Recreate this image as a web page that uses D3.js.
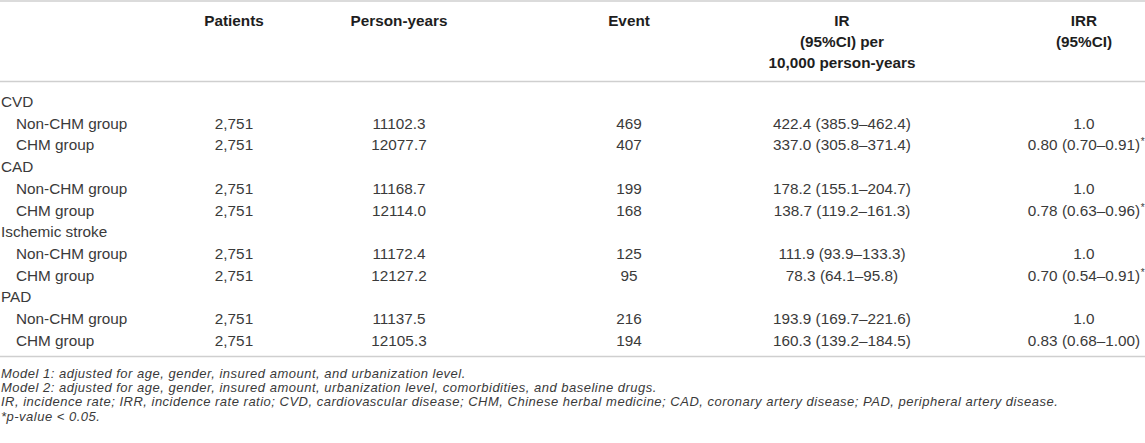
<!DOCTYPE html>
<html><head><meta charset="utf-8">
<script src="https://cdn.jsdelivr.net/npm/d3@7"></script>
<style>
html,body{margin:0;padding:0;background:#fff;}
svg{display:block;font-family:"Liberation Sans",Arial,sans-serif;}
</style></head>
<body><svg id="t" width="1145" height="443"></svg>
<script>
const columns = ["Patients","Person-years","Event","IR","IRR"];
const headerLines = [["Patients"],["Person-years"],["Event"],["IR","(95%CI) per","10,000 person-years"],["IRR","(95%CI)"]];
const outcomes = ["CVD","CAD","Ischemic stroke","PAD"];
const groups = ["Non-CHM group","CHM group"];
const patients = ["2,751","2,751","2,751","2,751","2,751","2,751","2,751","2,751"];
const personYears = ["11102.3","12077.7","11168.7","12114.0","11172.4","12127.2","11137.5","12105.3"];
const events = ["469","407","199","168","125","95","216","194"];
const irValues = ["422.4 (385.9–462.4)","337.0 (305.8–371.4)","178.2 (155.1–204.7)","138.7 (119.2–161.3)","111.9 (93.9–133.3)","78.3 (64.1–95.8)","193.9 (169.7–221.6)","160.3 (139.2–184.5)"];
const irrValues = ["1.0","0.80 (0.70–0.91)","1.0","0.78 (0.63–0.96)","1.0","0.70 (0.54–0.91)","1.0","0.83 (0.68–1.00)"];
const significant = [false,true,false,true,false,true,false,false];
const footnotes = [
 "Model 1: adjusted for age, gender, insured amount, and urbanization level.",
 "Model 2: adjusted for age, gender, insured amount, urbanization level, comorbidities, and baseline drugs.",
 "IR, incidence rate; IRR, incidence rate ratio; CVD, cardiovascular disease; CHM, Chinese herbal medicine; CAD, coronary artery disease; PAD, peripheral artery disease.",
 "*p-value < 0.05."
];

const W = 1145;
const svg = d3.select("#t");
const x = d3.scaleOrdinal().domain(columns).range([234, 399, 629, 842, 1084]);

// build row list
const rows = [];
let k = 0;
outcomes.forEach(o => {
  rows.push({type:"head", label:o});
  groups.forEach(g => {
    rows.push({type:"data", label:g, vals:[patients[k],personYears[k],events[k],irValues[k],irrValues[k]], sig:significant[k]});
    k++;
  });
});
const y = d3.scalePoint().domain(d3.range(rows.length)).range([107, 107 + 21.7*(rows.length-1)]);

const lineColor = "#cfcfcf";
[1, 81.5, 356.5].forEach(v => svg.append("line").attr("x1",0).attr("x2",W).attr("y1",v).attr("y2",v)
  .attr("stroke",lineColor).attr("stroke-width",1.3));

// header
const hy = d3.scalePoint().domain([0,1,2]).range([26, 68]);
columns.forEach((c,i) => {
  headerLines[i].forEach((t,j) => {
    svg.append("text").attr("x", x(c)).attr("y", hy(j)).attr("text-anchor","middle")
      .attr("font-size","15.3px").attr("font-weight","bold").attr("fill","#1e1e1e").text(t);
  });
});

const body = svg.append("g").attr("font-size","15.3px").attr("fill","#3a3a3a");
rows.forEach((r,i) => {
  body.append("text").attr("x", r.type==="head"?1:16).attr("y", y(i)).text(r.label);
  if (r.type==="data") {
    r.vals.forEach((v,j) => {
      const t = body.append("text").attr("x", x(columns[j])).attr("y", y(i)).attr("text-anchor","middle").text(v);
      if (j===4 && r.sig) {
        const len = t.node().getComputedTextLength();
        body.append("text").attr("x", x(columns[j]) + len/2 + 0.5).attr("y", y(i)-5)
          .attr("font-size","10px").text("*");
      }
    });
  }
});

const fy = d3.scalePoint().domain(d3.range(footnotes.length)).range([378, 420.5]);
const foot = svg.append("g").attr("font-size","13px").attr("font-style","italic").attr("fill","#3a3a3a")
  .attr("letter-spacing","0.5px");
footnotes.forEach((f,i) => foot.append("text").attr("x",1).attr("y",fy(i)).text(f));
</script></body></html>
